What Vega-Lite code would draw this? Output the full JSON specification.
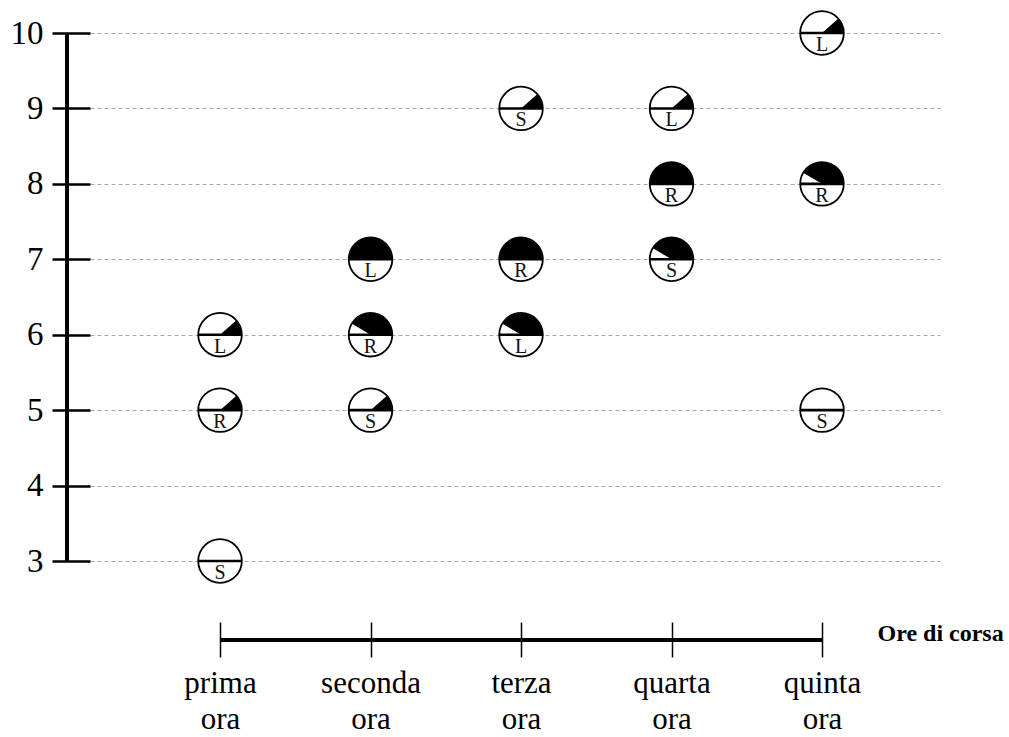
{
  "$schema": "https://vega.github.io/schema/vega-lite/v6.json",
  "autosize": {"type": "none"},
  "padding": {"left": 90, "top": 33, "right": 69, "bottom": 176},
  "width": 850,
  "height": 528,
  "background": "white",
  "config": {"view": {"stroke": null}},
  "data": {"values": [
    {"ora": 1, "v": 6, "lettera": "L", "f": 0.23},
    {"ora": 1, "v": 5, "lettera": "R", "f": 0.23},
    {"ora": 1, "v": 3, "lettera": "S", "f": 0},
    {"ora": 2, "v": 7, "lettera": "L", "f": 1},
    {"ora": 2, "v": 6, "lettera": "R", "f": 0.83},
    {"ora": 2, "v": 5, "lettera": "S", "f": 0.23},
    {"ora": 3, "v": 9, "lettera": "S", "f": 0.23},
    {"ora": 3, "v": 7, "lettera": "R", "f": 1},
    {"ora": 3, "v": 6, "lettera": "L", "f": 0.83},
    {"ora": 4, "v": 9, "lettera": "L", "f": 0.23},
    {"ora": 4, "v": 8, "lettera": "R", "f": 1},
    {"ora": 4, "v": 7, "lettera": "S", "f": 0.83},
    {"ora": 5, "v": 10, "lettera": "L", "f": 0.23},
    {"ora": 5, "v": 8, "lettera": "R", "f": 0.83},
    {"ora": 5, "v": 5, "lettera": "S", "f": 0}
  ]},
  "encoding": {
    "x": {
      "field": "ora", "type": "quantitative",
      "scale": {"domain": [0.136, 5.784], "nice": false, "zero": false},
      "axis": {
        "orient": "bottom", "offset": 61, "values": [1, 2, 3, 4, 5],
        "domain": false, "grid": false,
        "tickSize": 35, "tickWidth": 1.5, "tickColor": "black",
        "labelExpr": "[['prima','seconda','terza','quarta','quinta'][datum.value-1], 'ora']",
        "labelFont": "Liberation Serif", "labelFontSize": 31, "labelColor": "black",
        "labelLineHeight": 36, "labelPadding": 11, "labelBaseline": "top",
        "title": "Ore di corsa", "titleFont": "Liberation Serif", "titleFontSize": 24,
        "titleFontWeight": "bold", "titleColor": "black",
        "titleX": 787, "titleY": 11, "titleAlign": "left", "titleBaseline": "middle", "titleAngle": 0
      }
    },
    "y": {
      "field": "v", "type": "quantitative",
      "scale": {"domain": [3, 10], "nice": false, "zero": false},
      "axis": {
        "orient": "left", "values": [3, 4, 5, 6, 7, 8, 9, 10],
        "domain": false, "grid": true, "gridDash": [4, 3], "gridColor": "#a8a8a8", "gridWidth": 1,
        "tickSize": 38, "tickWidth": 2.5, "tickColor": "black",
        "labelFont": "Liberation Serif", "labelFontSize": 33, "labelColor": "black",
        "labelPadding": 9, "title": null
      }
    }
  },
  "layer": [
    {
      "mark": {"type": "rule", "strokeWidth": 3.5, "color": "black"},
      "encoding": {"x": {"datum": -0.0166}, "y": {"datum": 3}, "y2": {"datum": 10}}
    },
    {
      "mark": {"type": "rule", "strokeWidth": 4, "color": "black"},
      "encoding": {"x": {"datum": 1}, "x2": {"datum": 5}, "y": {"datum": 1.953}}
    },
    {
      "mark": {"type": "point", "shape": "circle", "filled": true, "fill": "white", "opacity": 1, "size": 1900, "strokeWidth": 0}
    },
    {
      "mark": {"type": "arc", "radius": 21.5, "fill": "black"},
      "encoding": {
        "theta": {"field": "f", "type": "quantitative", "stack": null, "scale": {"domain": [0, 1], "range": [1.5708, -1.5708]}},
        "theta2": {"datum": 0}
      }
    },
    {
      "mark": {"type": "point", "shape": "circle", "filled": false, "stroke": "black", "opacity": 1, "size": 1900, "strokeWidth": 1.8}
    },
    {
      "mark": {"type": "point", "shape": "stroke", "filled": false, "stroke": "black", "opacity": 1, "size": 1900, "strokeWidth": 2.6}
    },
    {
      "mark": {"type": "text", "font": "Liberation Serif", "fontSize": 20, "dy": 12, "baseline": "middle", "color": "#111"},
      "encoding": {"text": {"field": "lettera"}}
    }
  ]
}
